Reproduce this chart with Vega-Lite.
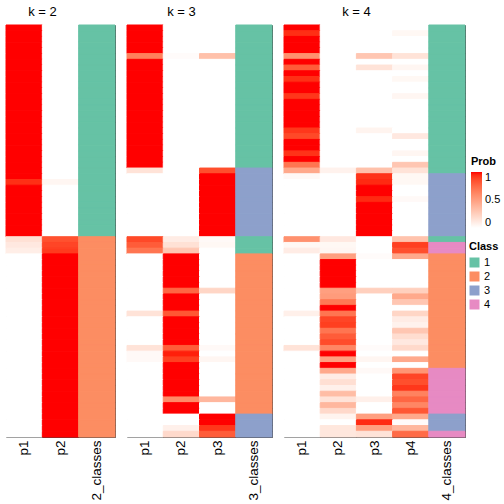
{
"$schema": "https://vega.github.io/schema/vega-lite/v6.json",
"background": "white",
"padding": {"left": 5, "top": 5, "right": 0, "bottom": 0},
"bounds": "flush",
"config": {
  "font": "Liberation Sans",
  "view": {"stroke": "#444", "strokeWidth": 1},
  "concat": {"spacing": 12},
  "axis": {"domain": false, "ticks": false, "labelAngle": -90, "labelFontSize": 13.5, "labelColor": "black", "labelPadding": 3, "title": null},
  "title": {"fontSize": 13, "fontWeight": "normal", "color": "black", "offset": 6},
  "legend": {"titleFontSize": 11, "titleFontWeight": "bold", "titleColor": "black", "labelFontSize": 11, "labelColor": "black"}
},
"datasets": {
"k2": [
{"r":0,"p1":1,"p2":0,"2_classes":"1"},{"r":1,"p1":1,"p2":0,"2_classes":"1"},{"r":2,"p1":1,"p2":0,"2_classes":"1"},{"r":3,"p1":1,"p2":0,"2_classes":"1"},{"r":4,"p1":1,"p2":0,"2_classes":"1"},{"r":5,"p1":1,"p2":0,"2_classes":"1"},{"r":6,"p1":1,"p2":0,"2_classes":"1"},{"r":7,"p1":1,"p2":0,"2_classes":"1"},{"r":8,"p1":1,"p2":0,"2_classes":"1"},{"r":9,"p1":1,"p2":0,"2_classes":"1"},
{"r":10,"p1":1,"p2":0,"2_classes":"1"},{"r":11,"p1":1,"p2":0,"2_classes":"1"},{"r":12,"p1":1,"p2":0,"2_classes":"1"},{"r":13,"p1":1,"p2":0,"2_classes":"1"},{"r":14,"p1":1,"p2":0,"2_classes":"1"},{"r":15,"p1":1,"p2":0,"2_classes":"1"},{"r":16,"p1":1,"p2":0,"2_classes":"1"},{"r":17,"p1":1,"p2":0,"2_classes":"1"},{"r":18,"p1":1,"p2":0,"2_classes":"1"},{"r":19,"p1":1,"p2":0,"2_classes":"1"},
{"r":20,"p1":1,"p2":0,"2_classes":"1"},{"r":21,"p1":1,"p2":0,"2_classes":"1"},{"r":22,"p1":1,"p2":0,"2_classes":"1"},{"r":23,"p1":1,"p2":0,"2_classes":"1"},{"r":24,"p1":1,"p2":0,"2_classes":"1"},{"r":25,"p1":1,"p2":0,"2_classes":"1"},{"r":26,"p1":1,"p2":0,"2_classes":"1"},{"r":27,"p1":0.94,"p2":0.05,"2_classes":"1"},{"r":28,"p1":1,"p2":0,"2_classes":"1"},{"r":29,"p1":1,"p2":0,"2_classes":"1"},
{"r":30,"p1":1,"p2":0,"2_classes":"1"},{"r":31,"p1":1,"p2":0,"2_classes":"1"},{"r":32,"p1":1,"p2":0,"2_classes":"1"},{"r":33,"p1":1,"p2":0,"2_classes":"1"},{"r":34,"p1":1,"p2":0,"2_classes":"1"},{"r":35,"p1":1,"p2":0,"2_classes":"1"},{"r":36,"p1":1,"p2":0,"2_classes":"1"},{"r":37,"p1":0.16,"p2":0.84,"2_classes":"2"},{"r":38,"p1":0.12,"p2":0.88,"2_classes":"2"},{"r":39,"p1":0.09,"p2":0.91,"2_classes":"2"},
{"r":40,"p1":0,"p2":1,"2_classes":"2"},{"r":41,"p1":0,"p2":1,"2_classes":"2"},{"r":42,"p1":0,"p2":1,"2_classes":"2"},{"r":43,"p1":0,"p2":1,"2_classes":"2"},{"r":44,"p1":0,"p2":1,"2_classes":"2"},{"r":45,"p1":0,"p2":1,"2_classes":"2"},{"r":46,"p1":0,"p2":1,"2_classes":"2"},{"r":47,"p1":0,"p2":1,"2_classes":"2"},{"r":48,"p1":0,"p2":1,"2_classes":"2"},{"r":49,"p1":0,"p2":1,"2_classes":"2"},
{"r":50,"p1":0,"p2":1,"2_classes":"2"},{"r":51,"p1":0,"p2":1,"2_classes":"2"},{"r":52,"p1":0,"p2":1,"2_classes":"2"},{"r":53,"p1":0,"p2":1,"2_classes":"2"},{"r":54,"p1":0,"p2":1,"2_classes":"2"},{"r":55,"p1":0,"p2":1,"2_classes":"2"},{"r":56,"p1":0,"p2":1,"2_classes":"2"},{"r":57,"p1":0,"p2":1,"2_classes":"2"},{"r":58,"p1":0,"p2":1,"2_classes":"2"},{"r":59,"p1":0,"p2":1,"2_classes":"2"},
{"r":60,"p1":0,"p2":1,"2_classes":"2"},{"r":61,"p1":0,"p2":1,"2_classes":"2"},{"r":62,"p1":0,"p2":1,"2_classes":"2"},{"r":63,"p1":0,"p2":1,"2_classes":"2"},{"r":64,"p1":0,"p2":1,"2_classes":"2"},{"r":65,"p1":0,"p2":1,"2_classes":"2"},{"r":66,"p1":0,"p2":1,"2_classes":"2"},{"r":67,"p1":0,"p2":1,"2_classes":"2"},{"r":68,"p1":0,"p2":1,"2_classes":"2"},{"r":69,"p1":0,"p2":1,"2_classes":"2"},
{"r":70,"p1":0,"p2":1,"2_classes":"2"},{"r":71,"p1":0,"p2":1,"2_classes":"2"}
],
"k3": [
{"r":0,"p1":1,"p2":0,"p3":0,"3_classes":"1"},{"r":1,"p1":1,"p2":0,"p3":0,"3_classes":"1"},{"r":2,"p1":1,"p2":0,"p3":0,"3_classes":"1"},{"r":3,"p1":1,"p2":0,"p3":0,"3_classes":"1"},{"r":4,"p1":1,"p2":0,"p3":0,"3_classes":"1"},{"r":5,"p1":0.65,"p2":0.02,"p3":0.33,"3_classes":"1"},{"r":6,"p1":1,"p2":0,"p3":0,"3_classes":"1"},{"r":7,"p1":1,"p2":0,"p3":0,"3_classes":"1"},{"r":8,"p1":1,"p2":0,"p3":0,"3_classes":"1"},{"r":9,"p1":1,"p2":0,"p3":0,"3_classes":"1"},
{"r":10,"p1":1,"p2":0,"p3":0,"3_classes":"1"},{"r":11,"p1":1,"p2":0,"p3":0,"3_classes":"1"},{"r":12,"p1":1,"p2":0,"p3":0,"3_classes":"1"},{"r":13,"p1":1,"p2":0,"p3":0,"3_classes":"1"},{"r":14,"p1":1,"p2":0,"p3":0,"3_classes":"1"},{"r":15,"p1":1,"p2":0,"p3":0,"3_classes":"1"},{"r":16,"p1":1,"p2":0,"p3":0,"3_classes":"1"},{"r":17,"p1":1,"p2":0,"p3":0,"3_classes":"1"},{"r":18,"p1":1,"p2":0,"p3":0,"3_classes":"1"},{"r":19,"p1":1,"p2":0,"p3":0,"3_classes":"1"},
{"r":20,"p1":1,"p2":0,"p3":0,"3_classes":"1"},{"r":21,"p1":1,"p2":0,"p3":0,"3_classes":"1"},{"r":22,"p1":1,"p2":0,"p3":0,"3_classes":"1"},{"r":23,"p1":1,"p2":0,"p3":0,"3_classes":"1"},{"r":24,"p1":1,"p2":0,"p3":0,"3_classes":"1"},{"r":25,"p1":0.15,"p2":0,"p3":0.85,"3_classes":"3"},{"r":26,"p1":0,"p2":0,"p3":1,"3_classes":"3"},{"r":27,"p1":0,"p2":0,"p3":1,"3_classes":"3"},{"r":28,"p1":0,"p2":0,"p3":1,"3_classes":"3"},{"r":29,"p1":0,"p2":0,"p3":1,"3_classes":"3"},
{"r":30,"p1":0,"p2":0,"p3":1,"3_classes":"3"},{"r":31,"p1":0,"p2":0,"p3":1,"3_classes":"3"},{"r":32,"p1":0,"p2":0,"p3":1,"3_classes":"3"},{"r":33,"p1":0,"p2":0,"p3":1,"3_classes":"3"},{"r":34,"p1":0,"p2":0,"p3":1,"3_classes":"3"},{"r":35,"p1":0,"p2":0,"p3":1,"3_classes":"3"},{"r":36,"p1":0,"p2":0,"p3":1,"3_classes":"3"},{"r":37,"p1":0.87,"p2":0.1,"p3":0.03,"3_classes":"1"},{"r":38,"p1":0.8,"p2":0.16,"p3":0.04,"3_classes":"1"},{"r":39,"p1":0.7,"p2":0.3,"p3":0,"3_classes":"1"},
{"r":40,"p1":0,"p2":1,"p3":0,"3_classes":"2"},{"r":41,"p1":0,"p2":1,"p3":0,"3_classes":"2"},{"r":42,"p1":0,"p2":1,"p3":0,"3_classes":"2"},{"r":43,"p1":0,"p2":1,"p3":0,"3_classes":"2"},{"r":44,"p1":0,"p2":1,"p3":0,"3_classes":"2"},{"r":45,"p1":0,"p2":1,"p3":0,"3_classes":"2"},{"r":46,"p1":0,"p2":0.76,"p3":0.22,"3_classes":"2"},{"r":47,"p1":0,"p2":1,"p3":0,"3_classes":"2"},{"r":48,"p1":0,"p2":1,"p3":0,"3_classes":"2"},{"r":49,"p1":0,"p2":1,"p3":0,"3_classes":"2"},
{"r":50,"p1":0.15,"p2":0.82,"p3":0,"3_classes":"2"},{"r":51,"p1":0,"p2":1,"p3":0,"3_classes":"2"},{"r":52,"p1":0,"p2":1,"p3":0,"3_classes":"2"},{"r":53,"p1":0,"p2":1,"p3":0,"3_classes":"2"},{"r":54,"p1":0,"p2":1,"p3":0,"3_classes":"2"},{"r":55,"p1":0,"p2":1,"p3":0,"3_classes":"2"},{"r":56,"p1":0.15,"p2":0.8,"p3":0.03,"3_classes":"2"},{"r":57,"p1":0.03,"p2":0.97,"p3":0,"3_classes":"2"},{"r":58,"p1":0.03,"p2":0.9,"p3":0.05,"3_classes":"2"},{"r":59,"p1":0,"p2":1,"p3":0,"3_classes":"2"},
{"r":60,"p1":0,"p2":1,"p3":0,"3_classes":"2"},{"r":61,"p1":0,"p2":1,"p3":0,"3_classes":"2"},{"r":62,"p1":0,"p2":1,"p3":0,"3_classes":"2"},{"r":63,"p1":0,"p2":1,"p3":0,"3_classes":"2"},{"r":64,"p1":0,"p2":1,"p3":0,"3_classes":"2"},{"r":65,"p1":0,"p2":0.6,"p3":0.38,"3_classes":"2"},{"r":66,"p1":0,"p2":1,"p3":0,"3_classes":"2"},{"r":67,"p1":0,"p2":1,"p3":0,"3_classes":"2"},{"r":68,"p1":0,"p2":0,"p3":1,"3_classes":"3"},{"r":69,"p1":0,"p2":0,"p3":1,"3_classes":"3"},
{"r":70,"p1":0,"p2":0.08,"p3":0.92,"3_classes":"3"},{"r":71,"p1":0,"p2":0.2,"p3":0.8,"3_classes":"3"}
],
"k4": [
{"r":0,"p1":1,"p2":0,"p3":0,"p4":0,"4_classes":"1"},{"r":1,"p1":0.94,"p2":0,"p3":0,"p4":0.04,"4_classes":"1"},{"r":2,"p1":1,"p2":0,"p3":0,"p4":0,"4_classes":"1"},{"r":3,"p1":1,"p2":0,"p3":0,"p4":0,"4_classes":"1"},{"r":4,"p1":1,"p2":0,"p3":0,"p4":0,"4_classes":"1"},{"r":5,"p1":0.57,"p2":0,"p3":0.3,"p4":0.15,"4_classes":"1"},{"r":6,"p1":1,"p2":0,"p3":0,"p4":0,"4_classes":"1"},{"r":7,"p1":0.8,"p2":0,"p3":0.15,"p4":0.05,"4_classes":"1"},{"r":8,"p1":1,"p2":0,"p3":0,"p4":0,"4_classes":"1"},{"r":9,"p1":0.94,"p2":0,"p3":0,"p4":0.04,"4_classes":"1"},
{"r":10,"p1":1,"p2":0,"p3":0,"p4":0,"4_classes":"1"},{"r":11,"p1":1,"p2":0,"p3":0,"p4":0,"4_classes":"1"},{"r":12,"p1":0.92,"p2":0,"p3":0,"p4":0.05,"4_classes":"1"},{"r":13,"p1":1,"p2":0,"p3":0,"p4":0,"4_classes":"1"},{"r":14,"p1":1,"p2":0,"p3":0,"p4":0,"4_classes":"1"},{"r":15,"p1":1,"p2":0,"p3":0,"p4":0,"4_classes":"1"},{"r":16,"p1":1,"p2":0,"p3":0,"p4":0,"4_classes":"1"},{"r":17,"p1":1,"p2":0,"p3":0,"p4":0,"4_classes":"1"},{"r":18,"p1":0.92,"p2":0,"p3":0.06,"p4":0,"4_classes":"1"},{"r":19,"p1":0.87,"p2":0,"p3":0,"p4":0.12,"4_classes":"1"},
{"r":20,"p1":1,"p2":0,"p3":0,"p4":0,"4_classes":"1"},{"r":21,"p1":1,"p2":0,"p3":0,"p4":0,"4_classes":"1"},{"r":22,"p1":0.93,"p2":0,"p3":0,"p4":0.05,"4_classes":"1"},{"r":23,"p1":1,"p2":0,"p3":0,"p4":0,"4_classes":"1"},{"r":24,"p1":0.7,"p2":0,"p3":0,"p4":0.3,"4_classes":"1"},{"r":25,"p1":0.45,"p2":0.07,"p3":0.33,"p4":0.15,"4_classes":"1"},{"r":26,"p1":0.03,"p2":0,"p3":0.93,"p4":0.04,"4_classes":"3"},{"r":27,"p1":0,"p2":0,"p3":0.95,"p4":0.04,"4_classes":"3"},{"r":28,"p1":0,"p2":0,"p3":1,"p4":0,"4_classes":"3"},{"r":29,"p1":0,"p2":0,"p3":1,"p4":0,"4_classes":"3"},
{"r":30,"p1":0,"p2":0,"p3":0.95,"p4":0.03,"4_classes":"3"},{"r":31,"p1":0,"p2":0,"p3":1,"p4":0,"4_classes":"3"},{"r":32,"p1":0,"p2":0,"p3":1,"p4":0,"4_classes":"3"},{"r":33,"p1":0,"p2":0,"p3":1,"p4":0,"4_classes":"3"},{"r":34,"p1":0,"p2":0,"p3":1,"p4":0,"4_classes":"3"},{"r":35,"p1":0,"p2":0,"p3":1,"p4":0,"4_classes":"3"},{"r":36,"p1":0,"p2":0,"p3":1,"p4":0,"4_classes":"3"},{"r":37,"p1":0.57,"p2":0.12,"p3":0,"p4":0.32,"4_classes":"1"},{"r":38,"p1":0.04,"p2":0.04,"p3":0,"p4":0.9,"4_classes":"4"},{"r":39,"p1":0.1,"p2":0.05,"p3":0,"p4":0.85,"4_classes":"4"},
{"r":40,"p1":0,"p2":0.5,"p3":0.02,"p4":0.45,"4_classes":"2"},{"r":41,"p1":0,"p2":1,"p3":0,"p4":0,"4_classes":"2"},{"r":42,"p1":0,"p2":1,"p3":0,"p4":0,"4_classes":"2"},{"r":43,"p1":0,"p2":1,"p3":0,"p4":0,"4_classes":"2"},{"r":44,"p1":0,"p2":1,"p3":0,"p4":0,"4_classes":"2"},{"r":45,"p1":0,"p2":1,"p3":0,"p4":0,"4_classes":"2"},{"r":46,"p1":0,"p2":0.5,"p3":0.25,"p4":0.25,"4_classes":"2"},{"r":47,"p1":0,"p2":0.52,"p3":0,"p4":0.45,"4_classes":"2"},{"r":48,"p1":0,"p2":0.68,"p3":0,"p4":0.3,"4_classes":"2"},{"r":49,"p1":0,"p2":1,"p3":0,"p4":0,"4_classes":"2"},
{"r":50,"p1":0.08,"p2":0.7,"p3":0,"p4":0.22,"4_classes":"2"},{"r":51,"p1":0,"p2":0.88,"p3":0,"p4":0.1,"4_classes":"2"},{"r":52,"p1":0,"p2":0.9,"p3":0,"p4":0.07,"4_classes":"2"},{"r":53,"p1":0,"p2":0.7,"p3":0,"p4":0.3,"4_classes":"2"},{"r":54,"p1":0,"p2":0.8,"p3":0,"p4":0.18,"4_classes":"2"},{"r":55,"p1":0,"p2":0.86,"p3":0,"p4":0.12,"4_classes":"2"},{"r":56,"p1":0.15,"p2":0.62,"p3":0.02,"p4":0.2,"4_classes":"2"},{"r":57,"p1":0,"p2":1,"p3":0,"p4":0,"4_classes":"2"},{"r":58,"p1":0,"p2":0.5,"p3":0.05,"p4":0.45,"4_classes":"2"},{"r":59,"p1":0,"p2":1,"p3":0,"p4":0,"4_classes":"2"},
{"r":60,"p1":0,"p2":0.45,"p3":0.03,"p4":0.55,"4_classes":"4"},{"r":61,"p1":0,"p2":0.1,"p3":0,"p4":0.88,"4_classes":"4"},{"r":62,"p1":0,"p2":0.17,"p3":0,"p4":0.85,"4_classes":"4"},{"r":63,"p1":0,"p2":0.08,"p3":0,"p4":0.92,"4_classes":"4"},{"r":64,"p1":0,"p2":0.35,"p3":0,"p4":0.64,"4_classes":"4"},{"r":65,"p1":0,"p2":0.15,"p3":0.08,"p4":0.76,"4_classes":"4"},{"r":66,"p1":0,"p2":0.38,"p3":0,"p4":0.62,"4_classes":"4"},{"r":67,"p1":0,"p2":0.2,"p3":0,"p4":0.82,"4_classes":"4"},{"r":68,"p1":0,"p2":0.06,"p3":0.5,"p4":0.45,"4_classes":"3"},{"r":69,"p1":0,"p2":0,"p3":0.95,"p4":0.02,"4_classes":"3"},
{"r":70,"p1":0,"p2":0.13,"p3":0.5,"p4":0.38,"4_classes":"3"},{"r":71,"p1":0,"p2":0.13,"p3":0.15,"p4":0.74,"4_classes":"4"}
]
},
"hconcat": [
{
 "width": 109, "height": 412,
 "title": {"text": "k = 2", "dx": -18},
 "data": {"name": "k2"},
 "layer": [
  {"transform": [{"fold": ["p1", "p2"], "as": ["col", "prob"]}],
   "mark": {"type": "rect", "strokeWidth": 1},
   "encoding": {
    "x": {"field": "col", "type": "nominal", "sort": null, "scale": {"domain": ["p1", "p2", "2_classes"], "paddingInner": 0, "paddingOuter": 0}},
    "y": {"field": "r", "type": "ordinal", "axis": null, "scale": {"paddingInner": 0, "paddingOuter": 0}},
    "color": {"field": "prob", "type": "quantitative", "scale": {"domain": [0, 1], "range": ["white", "red"], "interpolate": "lab"},
      "legend": {"title": "Prob", "orient": "none", "legendX": 465, "legendY": 131, "values": [0, 0.5, 1], "format": "~g", "gradientLength": 56, "gradientThickness": 11, "labelOffset": 3}},
    "stroke": {"field": "prob", "type": "quantitative", "scale": {"domain": [0, 1], "range": ["white", "red"], "interpolate": "lab"}, "legend": null}
   }},
  {"transform": [{"fold": ["2_classes"], "as": ["col", "cls"]}],
   "mark": {"type": "rect", "strokeWidth": 1},
   "encoding": {
    "x": {"field": "col", "type": "nominal", "sort": null, "scale": {"domain": ["p1", "p2", "2_classes"], "paddingInner": 0, "paddingOuter": 0}},
    "y": {"field": "r", "type": "ordinal", "axis": null, "scale": {"paddingInner": 0, "paddingOuter": 0}},
    "fill": {"field": "cls", "type": "nominal", "scale": {"domain": ["1", "2", "3", "4"], "range": ["#66C2A5", "#FC8D62", "#8DA0CB", "#E78AC3"]},
      "legend": {"title": "Class", "orient": "none", "legendX": 463, "legendY": 216, "symbolType": "square", "symbolSize": 100, "symbolStrokeWidth": 0, "rowPadding": 2}},
    "stroke": {"field": "cls", "type": "nominal", "scale": {"domain": ["1", "2", "3", "4"], "range": ["#66C2A5", "#FC8D62", "#8DA0CB", "#E78AC3"]}, "legend": null}
   }}
 ],
 "resolve": {"scale": {"stroke": "independent"}}
},
{
 "width": 145, "height": 412,
 "title": {"text": "k = 3", "dx": -18},
 "data": {"name": "k3"},
 "layer": [
  {"transform": [{"fold": ["p1", "p2", "p3"], "as": ["col", "prob"]}],
   "mark": {"type": "rect", "strokeWidth": 1},
   "encoding": {
    "x": {"field": "col", "type": "nominal", "sort": null, "scale": {"domain": ["p1", "p2", "p3", "3_classes"], "paddingInner": 0, "paddingOuter": 0}},
    "y": {"field": "r", "type": "ordinal", "axis": null, "scale": {"paddingInner": 0, "paddingOuter": 0}},
    "color": {"field": "prob", "type": "quantitative", "scale": {"domain": [0, 1], "range": ["white", "red"], "interpolate": "lab"},
      "legend": {"title": "Prob", "orient": "none", "legendX": 465, "legendY": 131, "values": [0, 0.5, 1], "format": "~g", "gradientLength": 56, "gradientThickness": 11, "labelOffset": 3}},
    "stroke": {"field": "prob", "type": "quantitative", "scale": {"domain": [0, 1], "range": ["white", "red"], "interpolate": "lab"}, "legend": null}
   }},
  {"transform": [{"fold": ["3_classes"], "as": ["col", "cls"]}],
   "mark": {"type": "rect", "strokeWidth": 1},
   "encoding": {
    "x": {"field": "col", "type": "nominal", "sort": null, "scale": {"domain": ["p1", "p2", "p3", "3_classes"], "paddingInner": 0, "paddingOuter": 0}},
    "y": {"field": "r", "type": "ordinal", "axis": null, "scale": {"paddingInner": 0, "paddingOuter": 0}},
    "fill": {"field": "cls", "type": "nominal", "scale": {"domain": ["1", "2", "3", "4"], "range": ["#66C2A5", "#FC8D62", "#8DA0CB", "#E78AC3"]},
      "legend": {"title": "Class", "orient": "none", "legendX": 463, "legendY": 216, "symbolType": "square", "symbolSize": 100, "symbolStrokeWidth": 0, "rowPadding": 2}},
    "stroke": {"field": "cls", "type": "nominal", "scale": {"domain": ["1", "2", "3", "4"], "range": ["#66C2A5", "#FC8D62", "#8DA0CB", "#E78AC3"]}, "legend": null}
   }}
 ],
 "resolve": {"scale": {"stroke": "independent"}}
},
{
 "width": 181, "height": 412,
 "title": {"text": "k = 4", "dx": -18},
 "data": {"name": "k4"},
 "layer": [
  {"transform": [{"fold": ["p1", "p2", "p3", "p4"], "as": ["col", "prob"]}],
   "mark": {"type": "rect", "strokeWidth": 1},
   "encoding": {
    "x": {"field": "col", "type": "nominal", "sort": null, "scale": {"domain": ["p1", "p2", "p3", "p4", "4_classes"], "paddingInner": 0, "paddingOuter": 0}},
    "y": {"field": "r", "type": "ordinal", "axis": null, "scale": {"paddingInner": 0, "paddingOuter": 0}},
    "color": {"field": "prob", "type": "quantitative", "scale": {"domain": [0, 1], "range": ["white", "red"], "interpolate": "lab"},
      "legend": {"title": "Prob", "orient": "none", "legendX": 465, "legendY": 131, "values": [0, 0.5, 1], "format": "~g", "gradientLength": 56, "gradientThickness": 11, "labelOffset": 3}},
    "stroke": {"field": "prob", "type": "quantitative", "scale": {"domain": [0, 1], "range": ["white", "red"], "interpolate": "lab"}, "legend": null}
   }},
  {"transform": [{"fold": ["4_classes"], "as": ["col", "cls"]}],
   "mark": {"type": "rect", "strokeWidth": 1},
   "encoding": {
    "x": {"field": "col", "type": "nominal", "sort": null, "scale": {"domain": ["p1", "p2", "p3", "p4", "4_classes"], "paddingInner": 0, "paddingOuter": 0}},
    "y": {"field": "r", "type": "ordinal", "axis": null, "scale": {"paddingInner": 0, "paddingOuter": 0}},
    "fill": {"field": "cls", "type": "nominal", "scale": {"domain": ["1", "2", "3", "4"], "range": ["#66C2A5", "#FC8D62", "#8DA0CB", "#E78AC3"]},
      "legend": {"title": "Class", "orient": "none", "legendX": 463, "legendY": 216, "symbolType": "square", "symbolSize": 100, "symbolStrokeWidth": 0, "rowPadding": 2}},
    "stroke": {"field": "cls", "type": "nominal", "scale": {"domain": ["1", "2", "3", "4"], "range": ["#66C2A5", "#FC8D62", "#8DA0CB", "#E78AC3"]}, "legend": null}
   }}
 ],
 "resolve": {"scale": {"stroke": "independent"}}
}
],
"resolve": {"scale": {"color": "shared", "fill": "shared", "stroke": "independent"}}
}
